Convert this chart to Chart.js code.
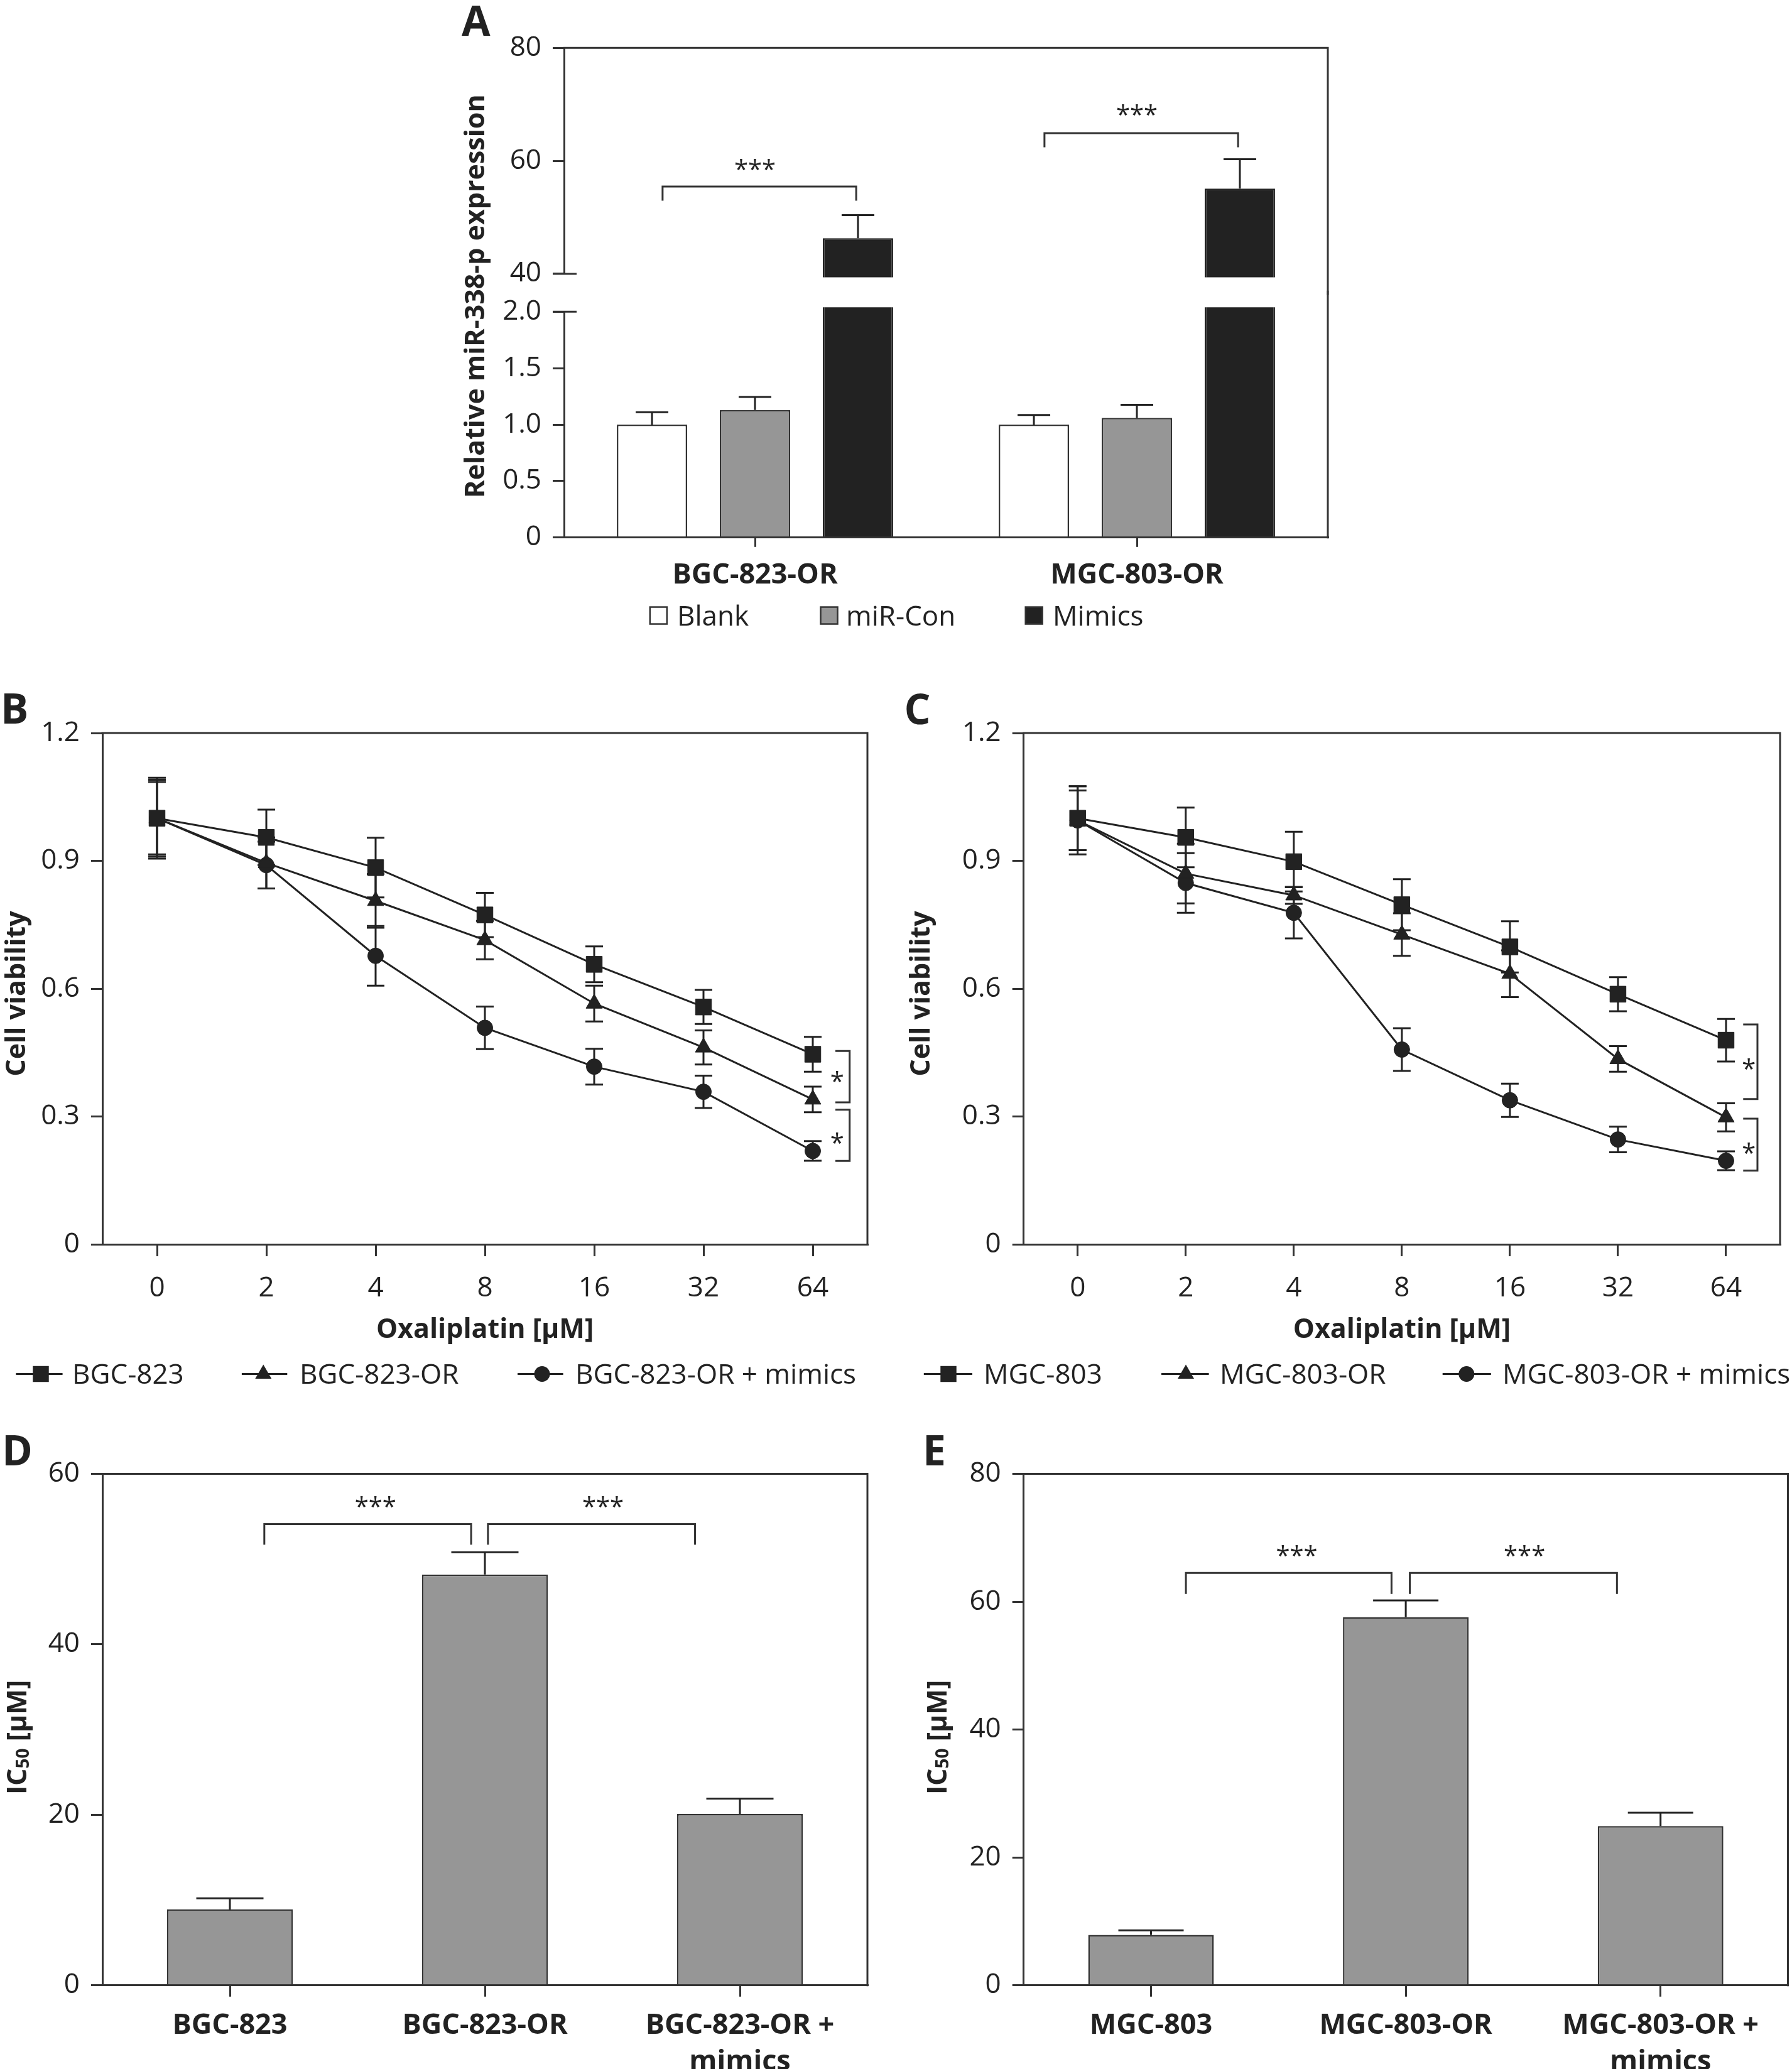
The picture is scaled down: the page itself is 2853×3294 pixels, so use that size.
<!DOCTYPE html>
<html><head><meta charset="utf-8">
<script src="https://cdn.jsdelivr.net/npm/chart.js@4.4.1/dist/chart.umd.min.js"></script>
<style>
html,body{margin:0;padding:0;background:#fff;}
#page{position:relative;width:2853px;height:3294px;background:#fff;overflow:hidden;}
#page canvas{position:absolute;}
</style></head>
<body><div id="page"></div>
<script>
// ---------------- DATA ----------------
// Panel A
const groupsA = ['BGC-823-OR', 'MGC-803-OR'];
const seriesA = ['Blank', 'miR-Con', 'Mimics'];
const blankA = [1.00, 1.00];
const blankErrA = [0.11, 0.085];
const mirConA = [1.13, 1.06];
const mirConErrA = [0.115, 0.115];
const mimicsA = [46.3, 55.1];
const mimicsErrA = [4.1, 5.2];
const ticksALow = [0, 0.5, 1.0, 1.5, 2.0];
const tickLabelsALow = ['0', '0.5', '1.0', '1.5', '2.0'];
const ticksAUp = [40, 60, 80];
const tickLabelsAUp = ['40', '60', '80'];
const sigA = ['***', '***'];
const yTitleA = 'Relative miR-338-p expression';

// Panel B
const dosesB = ['0', '2', '4', '8', '16', '32', '64'];
const seriesB = ['BGC-823', 'BGC-823-OR', 'BGC-823-OR + mimics'];
const bgc823 = [1.00, 0.955, 0.884, 0.773, 0.657, 0.557, 0.446];
const bgc823Err = [0.09, 0.065, 0.07, 0.052, 0.042, 0.04, 0.041];
const bgc823OR = [1.00, 0.895, 0.806, 0.714, 0.565, 0.462, 0.340];
const bgc823ORErr = [0.095, 0.06, 0.063, 0.045, 0.042, 0.04, 0.03];
const bgc823ORm = [1.00, 0.890, 0.677, 0.508, 0.417, 0.358, 0.219];
const bgc823ORmErr = [0.085, 0.055, 0.07, 0.05, 0.042, 0.038, 0.023];
const sigB = ['*', '*'];

// Panel C
const dosesC = ['0', '2', '4', '8', '16', '32', '64'];
const seriesC = ['MGC-803', 'MGC-803-OR', 'MGC-803-OR + mimics'];
const mgc803 = [1.00, 0.955, 0.898, 0.797, 0.698, 0.587, 0.479];
const mgc803Err = [0.075, 0.07, 0.07, 0.06, 0.06, 0.04, 0.05];
const mgc803OR = [0.995, 0.870, 0.819, 0.727, 0.635, 0.435, 0.298];
const mgc803ORErr = [0.08, 0.07, 0.02, 0.05, 0.055, 0.03, 0.033];
const mgc803ORm = [0.995, 0.848, 0.778, 0.457, 0.338, 0.246, 0.196];
const mgc803ORmErr = [0.07, 0.07, 0.06, 0.05, 0.039, 0.03, 0.022];
const sigC = ['*', '*'];

const ticksBC = [0, 0.3, 0.6, 0.9, 1.2];
const tickLabelsBC = ['0', '0.3', '0.6', '0.9', '1.2'];
const xTitleBC = 'Oxaliplatin [\u00B5M]';
const yTitleBC = 'Cell viability';

// Panel D
const catsD = ['BGC-823', 'BGC-823-OR', ['BGC-823-OR +', 'mimics']];
const ic50D = [8.9, 48.2, 20.1];
const ic50DErr = [1.3, 2.6, 1.8];
const ticksD = [0, 20, 40, 60];
const tickLabelsD = ['0', '20', '40', '60'];
const sigD = ['***', '***'];

// Panel E
const catsE = ['MGC-803', 'MGC-803-OR', ['MGC-803-OR +', 'mimics']];
const ic50E = [7.9, 57.6, 24.9];
const ic50EErr = [0.7, 2.6, 2.1];
const ticksE = [0, 20, 40, 60, 80];
const tickLabelsE = ['0', '20', '40', '60', '80'];
const sigE = ['***', '***'];

const yTitleDEParts = ['IC', '50', ' [\u00B5M]'];
const panelLetters = ['A', 'B', 'C', 'D', 'E'];

// ---------------- STYLE ----------------
const FONT = "'Open Sans', 'Noto Sans', 'DejaVu Sans', sans-serif";
const AX = '#333333';
const INK = '#222222';
const GRAY = '#969696';
const TITLE_SIZE = 43;
Chart.defaults.font.family = FONT;
Chart.defaults.color = INK;

const page = document.getElementById('page');
function mk(x, y, w, h) {
  const c = document.createElement('canvas');
  c.width = w; c.height = h;
  c.style.left = x + 'px'; c.style.top = y + 'px';
  c.style.width = w + 'px'; c.style.height = h + 'px';
  page.appendChild(c);
  return c;
}

// ---------------- HELPERS ----------------
function drawMarker(ctx, style, r, x, y) {
  ctx.fillStyle = INK;
  ctx.beginPath();
  if (style === 'rect') {
    const s = r * Math.SQRT1_2;
    ctx.rect(x - s, y - s, 2 * s, 2 * s);
  } else if (style === 'triangle') {
    const a = 2 * Math.PI / 3;
    ctx.moveTo(x, y - r);
    ctx.lineTo(x + r * Math.sin(a), y - r * Math.cos(a));
    ctx.lineTo(x + r * Math.sin(2 * a), y - r * Math.cos(2 * a));
    ctx.closePath();
  } else {
    ctx.arc(x, y, r, 0, Math.PI * 2);
  }
  ctx.fill();
}

function deco(o) {
  function drawErrors(chart) {
    const ctx = chart.ctx, a = chart.chartArea, ys = chart.scales.y;
    ctx.save();
    ctx.beginPath();
    const ct = o.clipTop || 0, cb = o.clipBottom || 0;
    ctx.rect(a.left - 80, a.top - ct, a.right - a.left + 160, a.bottom - a.top + ct + cb);
    ctx.clip();
    ctx.strokeStyle = INK; ctx.lineWidth = o.errWidth || 3; ctx.lineCap = 'butt';
    o.errors.forEach((errs, di) => {
      if (!errs) return;
      const meta = chart.getDatasetMeta(di);
      const vals = chart.data.datasets[di].data;
      meta.data.forEach((el, j) => {
        const v = vals[j], e = errs[j];
        const x = el.x, h = o.cap / 2;
        const hi = ys.getPixelForValue(v + e);
        const lo = ys.getPixelForValue(o.oneSided ? v : v - e);
        ctx.beginPath();
        ctx.moveTo(x, lo); ctx.lineTo(x, hi);
        ctx.moveTo(x - h, hi); ctx.lineTo(x + h, hi);
        if (!o.oneSided) { ctx.moveTo(x - h, lo); ctx.lineTo(x + h, lo); }
        ctx.stroke();
      });
    });
    ctx.restore();
  }
  function drawFrame(chart) {
    const f = o.frame; if (!f) return;
    const ctx = chart.ctx, a = chart.chartArea;
    ctx.save();
    ctx.strokeStyle = AX; ctx.lineWidth = 3; ctx.lineCap = 'square';
    ctx.beginPath();
    if (f.top) { ctx.moveTo(a.left, a.top); ctx.lineTo(a.right, a.top); }
    ctx.moveTo(a.right, a.top - (f.extTop || 0));
    ctx.lineTo(a.right, a.bottom + (f.extBottom || 0));
    ctx.stroke();
    ctx.lineCap = 'butt';
    (f.innerTicks || []).forEach(v => {
      const y = chart.scales.y.getPixelForValue(v);
      ctx.beginPath(); ctx.moveTo(a.left - 18, y); ctx.lineTo(a.left + 20, y); ctx.stroke();
    });
    ctx.restore();
  }
  function drawBrackets(chart) {
    if (!o.brackets) return;
    const ctx = chart.ctx, xs = chart.scales.x, ys = chart.scales.y;
    const p0 = xs.getPixelForValue(0), cu = xs.getPixelForValue(1) - p0;
    const X = u => p0 + u * cu, Y = v => ys.getPixelForValue(v);
    ctx.save();
    ctx.strokeStyle = AX; ctx.lineWidth = 3; ctx.lineJoin = 'miter'; ctx.lineCap = 'butt';
    ctx.fillStyle = INK; ctx.font = `400 ${o.starSize}px ${FONT}`;
    ctx.textAlign = 'center'; ctx.textBaseline = 'alphabetic';
    o.brackets.forEach(b => {
      ctx.beginPath();
      let sx;
      if (b.side) {
        const xc = xs.getPixelForValue(b.cat), xv = xc + b.dx;
        ctx.moveTo(xv - b.stub, Y(b.y1)); ctx.lineTo(xv, Y(b.y1));
        ctx.lineTo(xv, Y(b.y2)); ctx.lineTo(xv - b.stub, Y(b.y2));
        sx = xc + b.sdx;
      } else {
        ctx.moveTo(X(b.x1), Y(b.drop)); ctx.lineTo(X(b.x1), Y(b.y));
        ctx.lineTo(X(b.x2), Y(b.y)); ctx.lineTo(X(b.x2), Y(b.drop));
        sx = X(b.sx);
      }
      ctx.stroke();
      ctx.fillText(b.label, sx, Y(b.sy) + 0.57 * o.starSize);
    });
    ctx.restore();
  }
  function drawLegend(chart) {
    const L = o.legend; if (!L) return;
    const ctx = chart.ctx, ox = o.origin[0], oy = o.origin[1];
    ctx.save();
    ctx.font = `400 ${L.size}px ${FONT}`; ctx.textBaseline = 'middle'; ctx.textAlign = 'left';
    const y = L.y - oy;
    L.items.forEach(it => {
      const ds = chart.data.datasets[it.ds];
      if (L.kind === 'box') {
        const x = it.x - ox, s = L.box;
        ctx.fillStyle = ds.backgroundColor; ctx.fillRect(x, y - s / 2, s, s);
        ctx.strokeStyle = AX; ctx.lineWidth = 2.5; ctx.strokeRect(x, y - s / 2, s, s);
      } else {
        ctx.strokeStyle = INK; ctx.lineWidth = 3;
        ctx.beginPath(); ctx.moveTo(it.x1 - ox, y); ctx.lineTo(it.x2 - ox, y); ctx.stroke();
        drawMarker(ctx, ds.pointStyle, ds.pointRadius, it.xm - ox, y);
      }
      ctx.fillStyle = INK;
      ctx.fillText(ds.label, it.tx - ox, y + 3);
    });
    ctx.restore();
  }
  function drawTexts(chart) {
    const ctx = chart.ctx, ox = o.origin[0], oy = o.origin[1];
    (o.texts || []).forEach(t => {
      ctx.save();
      ctx.translate(t.x - ox, t.y - oy);
      if (t.rot) ctx.rotate(t.rot);
      ctx.fillStyle = INK;
      ctx.textBaseline = t.baseline || 'alphabetic';
      if (t.parts) {
        ctx.textAlign = 'left';
        const fonts = t.parts.map(p => `${p.weight || 400} ${p.size}px ${FONT}`);
        const widths = t.parts.map((p, i) => { ctx.font = fonts[i]; return ctx.measureText(p.text).width; });
        const total = widths.reduce((s, w) => s + w, 0);
        let x = t.align === 'center' ? -total / 2 : 0;
        t.parts.forEach((p, i) => { ctx.font = fonts[i]; ctx.fillText(p.text, x, p.dy || 0); x += widths[i]; });
      } else {
        ctx.font = `${t.weight || 400} ${t.size}px ${FONT}`;
        ctx.textAlign = t.align || 'left';
        ctx.fillText(t.text, 0, 0);
      }
      ctx.restore();
    });
  }
  return {
    id: 'deco',
    beforeDatasetsDraw(chart) { if (o.errors && !o.errorsOnTop) drawErrors(chart); },
    afterDatasetsDraw(chart) {
      if (o.errors && o.errorsOnTop) drawErrors(chart);
      drawFrame(chart); drawBrackets(chart); drawLegend(chart); drawTexts(chart);
    }
  };
}

function yLin(min, max, vals, labels, width, title) {
  return {
    type: 'linear', min, max,
    afterFit: s => { s.width = width; },
    afterBuildTicks: s => { s.ticks = vals.map(v => ({ value: v })); },
    grid: { display: true, drawOnChartArea: false, drawTicks: true, tickLength: 18, color: AX, lineWidth: 3 },
    border: { display: true, color: AX, width: 3 },
    ticks: { font: { family: FONT, size: 44 }, color: INK, padding: 18, callback: (v, i) => labels[i] },
    title: title || { display: false }
  };
}
function xCat(height, tickLen, pad, font, extra) {
  return Object.assign({
    type: 'category', offset: true,
    afterFit: s => { s.height = height; },
    grid: { display: true, offset: false, drawOnChartArea: false, drawTicks: true, tickLength: tickLen, color: AX, lineWidth: 3 },
    border: { display: true, color: AX, width: 3 },
    ticks: { font, color: INK, padding: pad, autoSkip: false, maxRotation: 0, minRotation: 0 }
  }, extra || {});
}
const baseOpts = { responsive: false, animation: false, devicePixelRatio: 1, events: [] };
const noPlug = { legend: { display: false }, tooltip: { enabled: false } };
const boldTitle = (text, padTop, padBottom) => ({
  display: true, text, color: INK,
  font: { family: FONT, size: TITLE_SIZE, weight: 'bold' },
  padding: { top: padTop, bottom: padBottom }
});
function lineDs(label, data, style, r) {
  return {
    label, data, borderColor: INK, borderWidth: 3, backgroundColor: INK,
    pointStyle: style, pointRadius: r, pointHoverRadius: r,
    pointBackgroundColor: INK, pointBorderColor: INK, pointBorderWidth: 1,
    tension: 0, fill: false
  };
}
const yText = (text, x, y) => ({ text, x, y, size: TITLE_SIZE, weight: 700, rot: -Math.PI / 2, align: 'center', baseline: 'middle' });
const icTitle = (x, y) => ({
  parts: [
    { text: yTitleDEParts[0], size: TITLE_SIZE, weight: 700 },
    { text: yTitleDEParts[1], size: 28, weight: 700, dy: 8 },
    { text: yTitleDEParts[2], size: TITLE_SIZE, weight: 700 }
  ],
  x, y, rot: -Math.PI / 2, align: 'center', baseline: 'middle'
});

// ---------------- PANEL A (broken axis: lower 0-2, upper 40-80) ----------------
const barA = (label, data, fill, border, clip) => ({
  label, data: data.slice(), backgroundColor: fill, borderColor: border, borderWidth: 2.5,
  base: 0, clip, categoryPercentage: 0.809, barPercentage: 0.683
});
const catBold = { family: FONT, size: 45, weight: 'bold' };
const cvAL = mk(700, 0, 1450, 1030);
new Chart(cvAL, {
  type: 'bar',
  data: {
    labels: groupsA,
    datasets: [
      barA(seriesA[0], blankA, '#ffffff', AX, { left: 0, right: 0, top: 7, bottom: 0 }),
      barA(seriesA[1], mirConA, GRAY, AX, { left: 0, right: 0, top: 7, bottom: 0 }),
      barA(seriesA[2], mimicsA, INK, INK, { left: 0, right: 0, top: 7, bottom: 0 })
    ]
  },
  options: Object.assign({}, baseOpts, {
    layout: { padding: { top: 496.2, right: 36, left: 0, bottom: 0 } },
    plugins: noPlug,
    scales: {
      x: xCat(174.2, 15, 18, catBold),
      y: yLin(0, 2, ticksALow, tickLabelsALow, 198)
    }
  }),
  plugins: [deco({
    origin: [700, 0],
    frame: { top: false, extTop: 32, innerTicks: [2] },
    errors: [blankErrA, mirConErrA, mimicsErrA], oneSided: true, errorsOnTop: true, cap: 52, clipTop: 7,
    legend: { kind: 'box', y: 980, box: 27, size: 44, items: [
      { ds: 0, x: 1034.8, tx: 1078 }, { ds: 1, x: 1306.5, tx: 1347 }, { ds: 2, x: 1632.7, tx: 1676 }
    ] },
    texts: [
      { text: panelLetters[0], x: 735, y: 57, size: 66, weight: 700 },
      yText(yTitleA, 758.4, 471.5)
    ]
  })]
});

const cvAU = mk(700, 0, 1450, 500);
new Chart(cvAU, {
  type: 'bar',
  data: {
    labels: groupsA,
    datasets: [
      barA(seriesA[0], blankA, '#ffffff', AX, { left: 0, right: 0, top: 0, bottom: 5.5 }),
      barA(seriesA[1], mirConA, GRAY, AX, { left: 0, right: 0, top: 0, bottom: 5.5 }),
      barA(seriesA[2], mimicsA, INK, INK, { left: 0, right: 0, top: 0, bottom: 5.5 })
    ]
  },
  options: Object.assign({}, baseOpts, {
    layout: { padding: { top: 76.3, right: 36, left: 0, bottom: 64.1 } },
    plugins: noPlug,
    scales: {
      x: { type: 'category', offset: true, display: false },
      y: yLin(40, 80, ticksAUp, tickLabelsAUp, 198)
    }
  }),
  plugins: [deco({
    origin: [700, 0],
    frame: { top: true, extBottom: 32, innerTicks: [40] },
    errors: [blankErrA, mirConErrA, mimicsErrA], oneSided: true, errorsOnTop: true, cap: 52, clipBottom: 5.5,
    starSize: 40,
    brackets: [
      { x1: -0.242, x2: 0.265, y: 55.46, drop: 52.94, sx: 0, sy: 59.4, label: sigA[0] },
      { x1: 0.758, x2: 1.265, y: 64.9, drop: 62.4, sx: 1, sy: 69.1, label: sigA[1] }
    ]
  })]
});

// ---------------- PANEL B ----------------
const cvB = mk(0, 1090, 1420, 1140);
new Chart(cvB, {
  type: 'line',
  data: {
    labels: dosesB,
    datasets: [
      lineDs(seriesB[0], bgc823, 'rect', 18),
      lineDs(seriesB[1], bgc823OR, 'triangle', 15),
      lineDs(seriesB[2], bgc823ORm, 'circle', 12.5)
    ]
  },
  options: Object.assign({}, baseOpts, {
    layout: { padding: { top: 77, right: 39, left: 0, bottom: 0 } },
    plugins: noPlug,
    scales: {
      x: xCat(249, 19, 25, { family: FONT, size: 44 }, { title: boldTitle(xTitleBC, 0, 86.4) }),
      y: yLin(0, 1.2, ticksBC, tickLabelsBC, 163)
    }
  }),
  plugins: [deco({
    origin: [0, 1090],
    frame: { top: true },
    errors: [bgc823Err, bgc823ORErr, bgc823ORmErr], oneSided: false, errorsOnTop: false, cap: 28,
    starSize: 40,
    brackets: [
      { side: true, cat: 6, dx: 58.7, stub: 22.7, y1: 0.4536, y2: 0.333, sdx: 38.7, sy: 0.395, label: sigB[0] },
      { side: true, cat: 6, dx: 58.7, stub: 22.7, y1: 0.316, y2: 0.1956, sdx: 38.7, sy: 0.251, label: sigB[1] }
    ],
    legend: { kind: 'line', y: 2187.5, size: 44, items: [
      { ds: 0, x1: 25.4, x2: 99.6, xm: 65, tx: 115 },
      { ds: 1, x1: 384.9, x2: 457.3, xm: 419.3, tx: 477 },
      { ds: 2, x1: 824, x2: 896.6, xm: 863, tx: 916 }
    ] },
    texts: [
      { text: panelLetters[1], x: 1, y: 1151.7, size: 66, weight: 700 },
      yText(yTitleBC, 28.2, 1582)
    ]
  })]
});

// ---------------- PANEL C ----------------
const cvC = mk(1430, 1090, 1423, 1140);
new Chart(cvC, {
  type: 'line',
  data: {
    labels: dosesC,
    datasets: [
      lineDs(seriesC[0], mgc803, 'rect', 18),
      lineDs(seriesC[1], mgc803OR, 'triangle', 15),
      lineDs(seriesC[2], mgc803ORm, 'circle', 12.5)
    ]
  },
  options: Object.assign({}, baseOpts, {
    layout: { padding: { top: 77, right: 6.5, left: 0, bottom: 0 } },
    plugins: noPlug,
    scales: {
      x: xCat(249, 19, 25, { family: FONT, size: 44 }, { title: boldTitle(xTitleBC, 0, 86.4) }),
      y: yLin(0, 1.2, ticksBC, tickLabelsBC, 199.7)
    }
  }),
  plugins: [deco({
    origin: [1430, 1090],
    frame: { top: true },
    errors: [mgc803Err, mgc803ORErr, mgc803ORmErr], oneSided: false, errorsOnTop: false, cap: 28,
    starSize: 40,
    brackets: [
      { side: true, cat: 6, dx: 50, stub: 22.7, y1: 0.516, y2: 0.341, sdx: 36.3, sy: 0.4245, label: sigC[0] },
      { side: true, cat: 6, dx: 50, stub: 22.7, y1: 0.295, y2: 0.173, sdx: 36.3, sy: 0.227, label: sigC[1] }
    ],
    legend: { kind: 'line', y: 2187.5, size: 44, items: [
      { ds: 0, x1: 1470.8, x2: 1548, xm: 1510, tx: 1566 },
      { ds: 1, x1: 1849, x2: 1924.6, xm: 1888, tx: 1942 },
      { ds: 2, x1: 2296.7, x2: 2373.8, xm: 2334.8, tx: 2392 }
    ] },
    texts: [
      { text: panelLetters[2], x: 1439.6, y: 1153, size: 66, weight: 700 },
      yText(yTitleBC, 1467.5, 1582)
    ]
  })]
});

// ---------------- PANEL D ----------------
const barIC = (data) => ({
  label: 'IC50', data, backgroundColor: GRAY, borderColor: AX, borderWidth: 2.5,
  categoryPercentage: 1, barPercentage: 0.493
});
const catFont = { family: FONT, size: 45, weight: 'bold', lineHeight: 1.28 };
const cvD = mk(0, 2260, 1420, 1034);
new Chart(cvD, {
  type: 'bar',
  data: { labels: catsD, datasets: [barIC(ic50D)] },
  options: Object.assign({}, baseOpts, {
    layout: { padding: { top: 86.5, right: 39, left: 0, bottom: 0 } },
    plugins: noPlug,
    scales: {
      x: xCat(133.2, 18, 18, catFont),
      y: yLin(0, 60, ticksD, tickLabelsD, 163)
    }
  }),
  plugins: [deco({
    origin: [0, 2260],
    frame: { top: true },
    errors: [ic50DErr], oneSided: true, errorsOnTop: true, cap: 107,
    starSize: 40,
    brackets: [
      { x1: 0.135, x2: 0.946, y: 54.1, drop: 51.7, sx: 0.571, sy: 56.8, label: sigD[0] },
      { x1: 1.012, x2: 1.824, y: 54.1, drop: 51.7, sx: 1.463, sy: 56.8, label: sigD[1] }
    ],
    texts: [
      { text: panelLetters[3], x: 3, y: 2333, size: 66, weight: 700 },
      icTitle(30, 2766)
    ]
  })]
});

// ---------------- PANEL E ----------------
const cvE = mk(1430, 2260, 1423, 1034);
new Chart(cvE, {
  type: 'bar',
  data: { labels: catsE, datasets: [barIC(ic50E)] },
  options: Object.assign({}, baseOpts, {
    layout: { padding: { top: 86.5, right: 6.5, left: 0, bottom: 0 } },
    plugins: noPlug,
    scales: {
      x: xCat(133.2, 18, 18, catFont),
      y: yLin(0, 80, ticksE, tickLabelsE, 199.7)
    }
  }),
  plugins: [deco({
    origin: [1430, 2260],
    frame: { top: true },
    errors: [ic50EErr], oneSided: true, errorsOnTop: true, cap: 104,
    starSize: 40,
    brackets: [
      { x1: 0.137, x2: 0.944, y: 64.5, drop: 61.2, sx: 0.572, sy: 68.0, label: sigE[0] },
      { x1: 1.016, x2: 1.829, y: 64.5, drop: 61.2, sx: 1.466, sy: 68.0, label: sigE[1] }
    ],
    texts: [
      { text: panelLetters[4], x: 1469, y: 2333, size: 66, weight: 700 },
      icTitle(1494.5, 2766)
    ]
  })]
});
</script>
</body></html>
